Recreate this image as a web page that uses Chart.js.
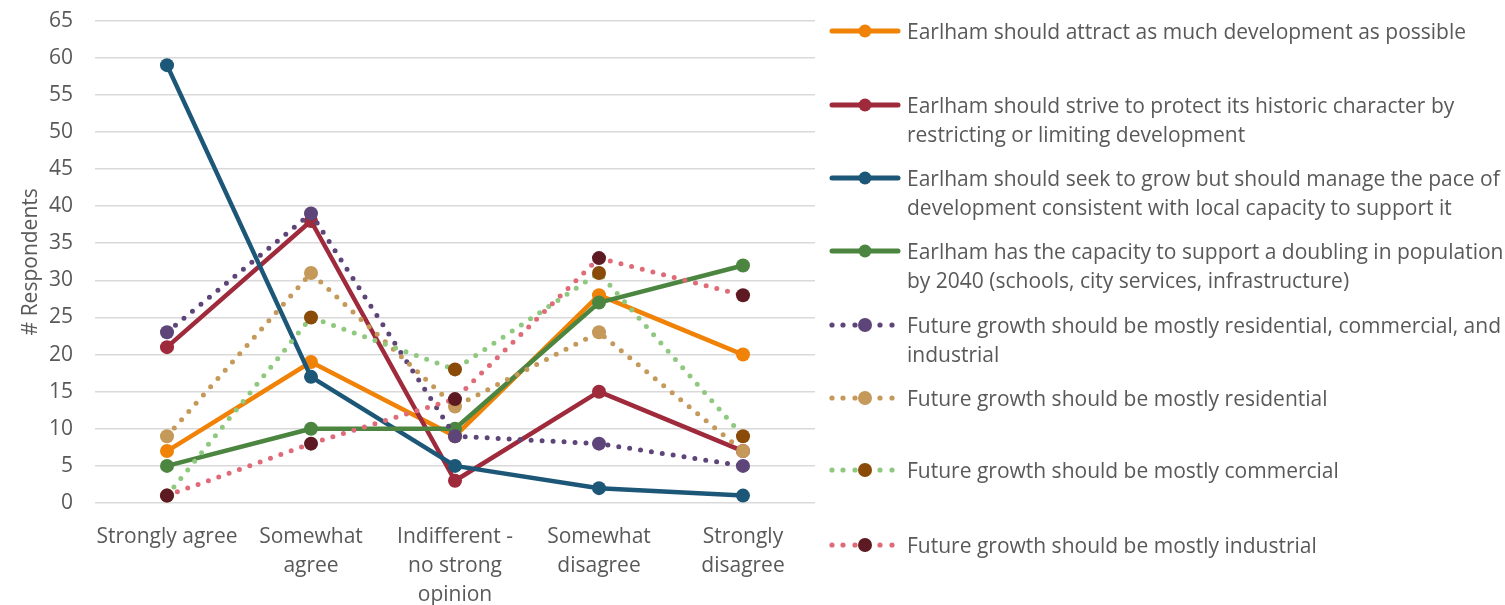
<!DOCTYPE html>
<html>
<head>
<meta charset="utf-8">
<script src="https://cdn.jsdelivr.net/npm/chart.js@4.4.1/dist/chart.umd.min.js"></script>
<style>
  html, body { margin: 0; padding: 0; background: #fff; overflow: hidden; }
  #wrap { position: relative; width: 1505px; height: 605px; overflow: hidden; }
  #chart { position: absolute; left: 0; top: -14px; }
  .entry { position: absolute; left: 829px; display: flex; align-items: flex-start;
           font-family: "Open Sans", sans-serif; font-size: 21px; color: #595959;
           line-height: 29px; white-space: pre; }
  .entry svg { flex: none; margin-right: 6px; margin-top: 4px; }
</style>
</head>
<body>
<div id="wrap">
  <canvas id="chart" width="1505" height="619"></canvas>
  <div id="legend"></div>
</div>
<script>
const categories = [
  'Strongly agree',
  ['Somewhat', 'agree'],
  ['Indifferent -', 'no strong', 'opinion'],
  ['Somewhat', 'disagree'],
  ['Strongly', 'disagree'],
]

const seriesNames = [
  'Earlham should attract as much development as possible',
  'Earlham should strive to protect its historic character by\nrestricting or limiting development',
  'Earlham should seek to grow but should manage the pace of\ndevelopment consistent with local capacity to support it',
  'Earlham has the capacity to support a doubling in population\nby 2040 (schools, city services, infrastructure)',
  'Future growth should be mostly residential, commercial, and\nindustrial',
  'Future growth should be mostly residential',
  'Future growth should be mostly commercial',
  'Future growth should be mostly industrial',
]

const attract = [7, 19, 9, 28, 20]
const protect = [21, 38, 3, 15, 7]
const manage = [59, 17, 5, 2, 1]
const capacity = [5, 10, 10, 27, 32]
const mixedUse = [23, 39, 9, 8, 5]
const residential = [9, 31, 13, 23, 7]
const commercial = [1, 25, 18, 31, 9]
const industrial = [1, 8, 14, 33, 28]

const yTicks = { min: 0, max: 65, step: 5 }

// line colour, marker colour, dotted or solid
const styles = [
  { line: '#F08208', marker: '#F08208', dotted: false },
  { line: '#9E2A3B', marker: '#9E2A3B', dotted: false },
  { line: '#1D5778', marker: '#1D5778', dotted: false },
  { line: '#4C8540', marker: '#4C8540', dotted: false },
  { line: '#5E4579', marker: '#5E4579', dotted: true },
  { line: '#C4995A', marker: '#C4995A', dotted: true },
  { line: '#8FC97F', marker: '#8A4A08', dotted: true },
  { line: '#DF6B78', marker: '#5E1A22', dotted: true },
]

const values = [attract, protect, manage, capacity, mixedUse, residential, commercial, industrial]

const datasets = values.map((data, i) => {
  const s = styles[i]
  return {
    label: seriesNames[i],
    data,
    borderColor: s.line,
    backgroundColor: s.marker,
    pointBackgroundColor: s.marker,
    pointBorderColor: s.marker,
    pointBorderWidth: 0,
    pointRadius: 7,
    borderWidth: s.dotted ? 5 : 4.5,
    borderDash: s.dotted ? [0, 11] : [],
    borderCapStyle: 'round',
    borderJoinStyle: 'round',
    tension: 0,
    order: values.length - i, // later series sit on top
  }
})

const font = { family: '"Open Sans", sans-serif', size: 21 }

new Chart(document.getElementById('chart'), {
  type: 'line',
  data: { labels: categories, datasets },
  options: {
    responsive: false,
    animation: false,
    layout: { padding: { top: 0, right: 690, left: 14, bottom: 0 } },
    plugins: { legend: { display: false }, tooltip: { enabled: false } },
    scales: {
      x: {
        offset: true,
        grid: { display: false },
        border: { display: false },
        ticks: { color: '#595959', font: { ...font, lineHeight: 1.38 }, maxRotation: 0, autoSkip: false, padding: 12 },
        afterFit: (scale) => { scale.height = 102 },
      },
      y: {
        min: yTicks.min,
        max: yTicks.max,
        ticks: { stepSize: yTicks.step, color: '#595959', font, padding: 22 },
        grid: { color: '#D9D9D9', lineWidth: 1.5, drawTicks: false },
        border: { display: false },
        title: { display: true, text: '# Respondents', color: '#595959', font, padding: 4 },
        afterFit: (scale) => { scale.width = 81 },
      },
    },
  },
})

// legend on the right, one entry per series
const legendTops = [17, 91, 164, 237, 311, 384, 456, 531]
const legend = document.getElementById('legend')
datasets.forEach((ds, i) => {
  const s = styles[i]
  let swatch
  if (s.dotted) {
    const dots = [3, 14, 26, 51, 63].map((x) => `<circle cx="${x}" cy="10" r="2.6" fill="${s.line}"/>`).join('')
    swatch = `${dots}<circle cx="36" cy="10" r="7" fill="${s.marker}"/>`
  } else {
    swatch = `<line x1="3" y1="10" x2="69" y2="10" stroke="${s.line}" stroke-width="5" stroke-linecap="round"/>`
      + `<circle cx="36" cy="10" r="6.5" fill="${s.marker}"/>`
  }
  const el = document.createElement('div')
  el.className = 'entry'
  el.style.top = `${legendTops[i]}px`
  el.innerHTML = `<svg width="72" height="20">${swatch}</svg><span></span>`
  el.querySelector('span').textContent = ds.label
  legend.appendChild(el)
})
</script>
</body>
</html>
